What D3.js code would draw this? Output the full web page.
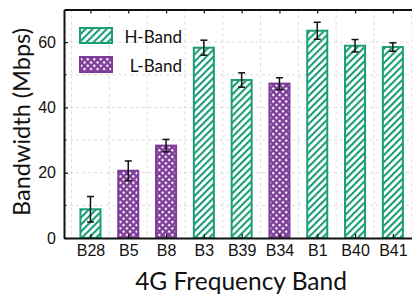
<!DOCTYPE html>
<html>
<head>
<meta charset="utf-8">
<script src="https://cdn.jsdelivr.net/npm/d3@7"></script>
<style>
body{margin:0;background:#fff;}
svg{display:block;font-family:Lato,"Open Sans",sans-serif;}
</style>
</head>
<body>
<svg width="412" height="297"></svg>
<script>
let bands=['B28','B5','B8','B3','B39','B34','B1','B40','B41'];
let bandType=['H','L','L','H','H','L','H','H','H'];
let values=[8.8,20.6,28.3,58.3,48.4,47.3,63.5,58.9,58.5];
let errors=[3.9,3.0,1.9,2.3,2.2,1.8,2.6,1.9,1.3];
let yTicks=[0,20,40,60];
let yGrid=[10,20,30,40,50,60];
let legendNames=['H-Band','L-Band'];

let green='#1b9e77';
let purple='#7d3c98';
let plotLeft=64, plotTop=9.5, plotBottom=238;
let step=37.8;

const svg=d3.select('svg');

let xScale=d3.scaleLinear()
  .domain([-0.7,8.7])
  .range([plotLeft,plotLeft+9.4*step]);
let yScale=d3.scaleLinear()
  .domain([0,70])
  .range([plotBottom,plotTop]);

// patterns
let defs=svg.append('defs');
let ph=defs.append('pattern')
  .attr('id','hatchH')
  .attr('patternUnits','userSpaceOnUse')
  .attr('width',5).attr('height',5)
  .attr('patternTransform','rotate(45)');
ph.append('rect').attr('width',5).attr('height',5).attr('fill','#fff');
ph.append('rect').attr('x',0).attr('y',0).attr('width',2.1).attr('height',5).attr('fill',green);

let pl=defs.append('pattern')
  .attr('id','hatchL')
  .attr('patternUnits','userSpaceOnUse')
  .attr('width',4.6).attr('height',4.6)
  .attr('patternTransform','rotate(45)');
pl.append('rect').attr('width',4.6).attr('height',4.6).attr('fill',purple);
pl.append('rect').attr('x',1.7).attr('y',1.7).attr('width',2.2).attr('height',2.2).attr('fill','#fff');

let fillFor=(t)=>t=='H'?'url(#hatchH)':'url(#hatchL)';
let colorFor=(t)=>t=='H'?green:purple;

// grid
let gridG=svg.append('g');
gridG.selectAll('.hg')
  .data(yGrid)
  .enter()
  .append('line')
  .attr('x1',plotLeft).attr('x2',412)
  .attr('y1',(d)=>yScale(d)).attr('y2',(d)=>yScale(d))
  .attr('stroke','#dcdcdc').attr('stroke-width',1)
  .attr('stroke-dasharray','3,3');
gridG.selectAll('.vg')
  .data(d3.range(bands.length+1))
  .enter()
  .append('line')
  .attr('x1',(d)=>xScale(d-0.5)).attr('x2',(d)=>xScale(d-0.5))
  .attr('y1',plotTop).attr('y2',plotBottom)
  .attr('stroke','#dcdcdc').attr('stroke-width',1)
  .attr('stroke-dasharray','3,3');

// bars
let barW=step*0.53;
svg.selectAll('.bar')
  .data(values)
  .enter()
  .append('rect')
  .attr('class','bar')
  .attr('x',(d,i)=>xScale(i)-barW/2)
  .attr('y',(d)=>yScale(d))
  .attr('width',barW)
  .attr('height',(d)=>plotBottom-yScale(d))
  .attr('fill',(d,i)=>fillFor(bandType[i]))
  .attr('stroke',(d,i)=>colorFor(bandType[i]))
  .attr('stroke-width',2);

// error bars
let errG=svg.append('g').attr('stroke','#111').attr('stroke-width',1.5);
values.forEach((v,i)=>{
  let cx=xScale(i);
  errG.append('line').attr('x1',cx).attr('x2',cx)
    .attr('y1',yScale(v-errors[i])).attr('y2',yScale(v+errors[i]));
  [v-errors[i],v+errors[i]].forEach((e)=>{
    errG.append('line').attr('x1',cx-3.5).attr('x2',cx+3.5)
      .attr('y1',yScale(e)).attr('y2',yScale(e));
  });
});

// axes
let yAxis=d3.axisLeft(yScale).tickValues(yTicks).tickSizeInner(-4).tickSizeOuter(0).tickPadding(8);
let yAxisG=svg.append('g')
  .attr('transform','translate('+plotLeft+',0)')
  .call(yAxis);
yAxisG.selectAll('text').attr('font-size',16).attr('fill','#111');
yAxisG.selectAll('line').attr('stroke','#111').attr('stroke-width',1.2);
yAxisG.select('.domain').attr('stroke','#111').attr('stroke-width',2);

let minorY=svg.append('g');
minorY.selectAll('line')
  .data([10,30,50])
  .enter()
  .append('line')
  .attr('x1',plotLeft).attr('x2',plotLeft+2.5)
  .attr('y1',(d)=>yScale(d)).attr('y2',(d)=>yScale(d))
  .attr('stroke','#111').attr('stroke-width',1);

let xAxis=d3.axisBottom(xScale)
  .tickValues(d3.range(bands.length))
  .tickFormat((d)=>bands[d])
  .tickSizeInner(-4).tickSizeOuter(0).tickPadding(7);
let xAxisG=svg.append('g')
  .attr('transform','translate(0,'+plotBottom+')')
  .call(xAxis);
xAxisG.selectAll('text').attr('font-size',16).attr('fill','#111');
xAxisG.selectAll('line').attr('stroke','#111').attr('stroke-width',1.2);
xAxisG.select('.domain').attr('stroke','#111').attr('stroke-width',2);

let xTop=d3.axisTop(xScale)
  .tickValues(d3.range(bands.length))
  .tickFormat('')
  .tickSizeInner(-4).tickSizeOuter(0);
let xTopG=svg.append('g')
  .attr('transform','translate(0,'+plotTop+')')
  .call(xTop);
xTopG.selectAll('line').attr('stroke','#111').attr('stroke-width',1.2);
xTopG.select('.domain').attr('stroke','#111').attr('stroke-width',2);

// axis titles
svg.append('text')
  .attr('x',241).attr('y',290)
  .attr('text-anchor','middle')
  .attr('font-size',24.5)
  .attr('fill','#111')
  .text('4G Frequency Band');
svg.append('text')
  .attr('transform','translate(30,122) rotate(-90)')
  .attr('text-anchor','middle')
  .attr('font-size',23.5)
  .attr('fill','#111')
  .text('Bandwidth (Mbps)');

// legend
let legend=svg.append('g');
legendNames.forEach((name,i)=>{
  let t=i==0?'H':'L';
  let ly=28+i*29;
  legend.append('rect')
    .attr('x',80).attr('y',ly)
    .attr('width',32).attr('height',15)
    .attr('fill',fillFor(t))
    .attr('stroke',colorFor(t))
    .attr('stroke-width',2);
  legend.append('text')
    .attr('x',182).attr('y',ly+15)
    .attr('text-anchor','end')
    .attr('font-size',17)
    .attr('fill','#111')
    .text(name);
});
</script>
</body>
</html>
